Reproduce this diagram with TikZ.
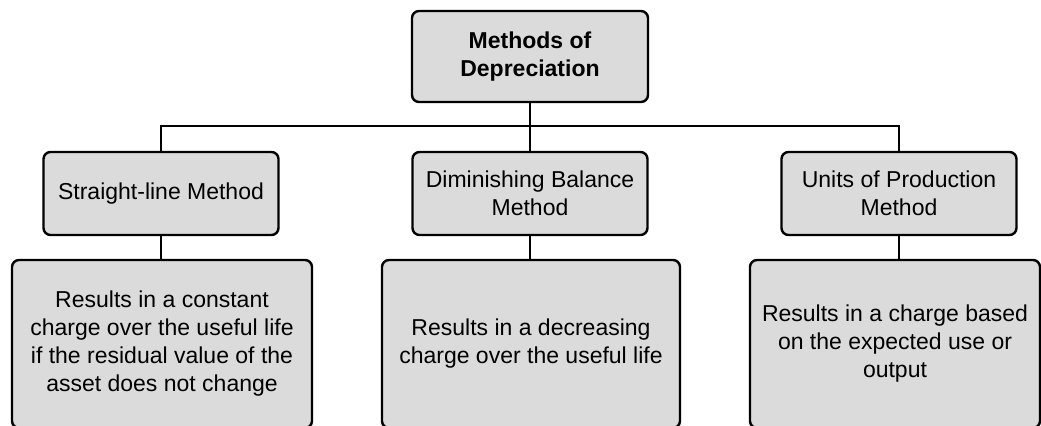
\documentclass[tikz,border=0pt]{standalone}
\usepackage{fontspec}
\setmainfont{Liberation Sans}
\usepackage{tikz}
\usetikzlibrary{positioning,calc}
\definecolor{boxC}{rgb}{0.86,0.86,0.86}

\begin{document}
\begin{tikzpicture}[x=0.5pt,y=-0.5pt,
    box/.style={draw,line width=1.2pt,fill=boxC,rounded corners=3.5pt,
                align=center,inner sep=2pt,
                font=\fontsize{11.5}{14}\selectfont},
    headbox/.style={box,minimum width=118pt,minimum height=45.5pt,
                font=\fontsize{11.5}{14}\selectfont\bfseries},
    methodbox/.style={box,minimum width=117.5pt,minimum height=41.5pt},
    resultbox/.style={box,minimum height=84pt},
    link/.style={line width=1pt}]
  \useasboundingbox (0,0) rectangle (1041,425);

  % Root
  \node[headbox] (root) at (530,56.5) {Methods of\\Depreciation};

  % Methods
  \node[methodbox] (straight) at (161,193.5) {Straight-line Method};
  \node[methodbox] (diminish) at (530,193.5) {Diminishing Balance\\Method};
  \node[methodbox] (units) at (899,193.5) {Units of Production\\Method};

  % Results
  \node[resultbox,minimum width=150pt] (resStraight) at (162,344)
    {Results in a constant\\charge over the useful life\\if the residual value of the\\asset does not change};
  \node[resultbox,minimum width=149pt] (resDiminish) at (531,344)
    {Results in a decreasing\\charge over the useful life};
  \node[resultbox,minimum width=145pt] (resUnits) at (895,344)
    {Results in a charge based\\on the expected use or\\output};

  % Connectors
  \coordinate (bus) at (530,126);
  \draw[link] (root.south) -- (diminish.north);
  \draw[link] (straight.north) -- (straight.north |- bus)
    -- (units.north |- bus) -- (units.north);
  \draw[link] (straight.south) -- (straight.south |- resStraight.north);
  \draw[link] (diminish.south) -- (diminish.south |- resDiminish.north);
  \draw[link] (units.south) -- (units.south |- resUnits.north);
\end{tikzpicture}
\end{document}
